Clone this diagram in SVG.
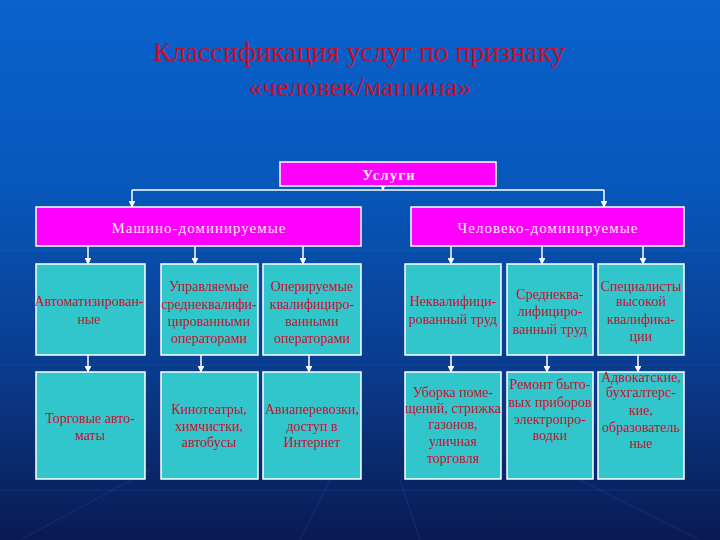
<svg xmlns="http://www.w3.org/2000/svg" width="720" height="540" viewBox="0 0 720 540">
<defs>
<linearGradient id="bg" x1="0" y1="0" x2="0" y2="1">
<stop offset="0" stop-color="#0a62cc"/>
<stop offset="0.35" stop-color="#0757bb"/>
<stop offset="0.7" stop-color="#0a3a8a"/>
<stop offset="1" stop-color="#0a1a52"/>
</linearGradient>
<marker id="ah" viewBox="0 0 10 10" refX="9" refY="5" markerWidth="4.5" markerHeight="4.5" orient="auto" markerUnits="strokeWidth">
<path d="M0,0 L10,5 L0,10 z" fill="#ffffff"/>
</marker>
<style>
.title{font-family:"Liberation Serif","Times New Roman",serif;font-size:28px;fill:#c4102c;text-anchor:middle}
.mag{fill:#ff00ff;stroke:#ffffff;stroke-width:1.5}
.cyan{fill:#30c6cc;stroke:#ffffff;stroke-width:1.5}
.mt{font-family:"Liberation Serif","Times New Roman",serif;font-size:15px;letter-spacing:1px;fill:#ffe8f4;text-anchor:middle}
.ct{font-family:"Liberation Serif","Times New Roman",serif;font-size:14px;fill:#c8102e;text-anchor:middle}
.con{stroke:#ffffff;stroke-width:1.5;fill:none}
.arr{stroke:#ffffff;stroke-width:1.5;fill:none;marker-end:url(#ah)}
.grid{stroke:#3a7ad8;stroke-width:1;opacity:0.18}
</style>
</defs>
<rect x="0" y="0" width="720" height="540" fill="url(#bg)"/>
<g id="background-lines">
<line class="grid" x1="0" y1="150" x2="720" y2="150"/>
<line class="grid" x1="0" y1="250" x2="720" y2="250"/>
<line class="grid" x1="0" y1="365" x2="720" y2="365"/>
<line class="grid" x1="0" y1="490" x2="720" y2="490"/>
<line class="grid" x1="20" y1="540" x2="150" y2="470"/>
<line class="grid" x1="700" y1="540" x2="560" y2="470"/>
<line class="grid" x1="300" y1="540" x2="330" y2="480"/>
<line class="grid" x1="420" y1="540" x2="400" y2="480"/>
</g>
<g id="title">
<text class="title" x="359" y="61">Классификация услуг по признаку</text>
<text class="title" x="360" y="96">«человек/машина»</text>
</g>
<g id="connectors">
<line class="arr" x1="383" y1="186" x2="383" y2="190"/>
<line class="con" x1="132" y1="190" x2="604" y2="190"/>
<line class="arr" x1="132" y1="190" x2="132" y2="207"/>
<line class="arr" x1="604" y1="190" x2="604" y2="207"/>
<line class="arr" x1="88" y1="246" x2="88" y2="264"/>
<line class="arr" x1="195" y1="246" x2="195" y2="264"/>
<line class="arr" x1="303" y1="246" x2="303" y2="264"/>
<line class="arr" x1="451" y1="246" x2="451" y2="264"/>
<line class="arr" x1="542" y1="246" x2="542" y2="264"/>
<line class="arr" x1="643" y1="246" x2="643" y2="264"/>
<line class="arr" x1="88" y1="355" x2="88" y2="372"/>
<line class="arr" x1="201" y1="355" x2="201" y2="372"/>
<line class="arr" x1="309" y1="355" x2="309" y2="372"/>
<line class="arr" x1="451" y1="355" x2="451" y2="372"/>
<line class="arr" x1="547" y1="355" x2="547" y2="372"/>
<line class="arr" x1="638" y1="355" x2="638" y2="372"/>
</g>
<g id="uslugi">
<rect class="mag" x="280" y="162" width="216" height="24"/>
<text class="mt" x="389" y="180" font-weight="bold" letter-spacing="1.3">Услуги</text>
</g>
<g id="machine">
<rect class="mag" x="36" y="207" width="325" height="39"/>
<text class="mt" x="199" y="233">Машино-доминируемые</text>
</g>
<g id="human">
<rect class="mag" x="411" y="207" width="273" height="39"/>
<text class="mt" x="548" y="233">Человеко-доминируемые</text>
</g>
<g id="m1">
<rect class="cyan" x="36" y="264" width="109" height="91"/>
<text class="ct" x="89" y="306">Автоматизирован-</text>
<text class="ct" x="89" y="324">ные</text>
</g>
<g id="m2">
<rect class="cyan" x="161" y="264" width="97" height="91"/>
<text class="ct" x="209" y="291">Управляемые</text>
<text class="ct" x="209" y="309">среднеквалифи-</text>
<text class="ct" x="209" y="326">цированными</text>
<text class="ct" x="209" y="343">операторами</text>
</g>
<g id="m3">
<rect class="cyan" x="263" y="264" width="98" height="91"/>
<text class="ct" x="312" y="291">Оперируемые</text>
<text class="ct" x="312" y="309">квалифициро-</text>
<text class="ct" x="312" y="326">ванными</text>
<text class="ct" x="312" y="343">операторами</text>
</g>
<g id="h1">
<rect class="cyan" x="405" y="264" width="96" height="91"/>
<text class="ct" x="453" y="306">Неквалифици-</text>
<text class="ct" x="453" y="324">рованный труд</text>
</g>
<g id="h2">
<rect class="cyan" x="507" y="264" width="86" height="91"/>
<text class="ct" x="550" y="299">Среднеква-</text>
<text class="ct" x="550" y="316">лифициро-</text>
<text class="ct" x="550" y="334">ванный труд</text>
</g>
<g id="h3">
<rect class="cyan" x="598" y="264" width="86" height="91"/>
<text class="ct" x="641" y="291">Специалисты</text>
<text class="ct" x="641" y="306">высокой</text>
<text class="ct" x="641" y="324">квалифика-</text>
<text class="ct" x="641" y="341">ции</text>
</g>
<g id="m4">
<rect class="cyan" x="36" y="372" width="109" height="107"/>
<text class="ct" x="90" y="423">Торговые авто-</text>
<text class="ct" x="90" y="440">маты</text>
</g>
<g id="m5">
<rect class="cyan" x="161" y="372" width="97" height="107"/>
<text class="ct" x="209" y="414">Кинотеатры,</text>
<text class="ct" x="209" y="431">химчистки,</text>
<text class="ct" x="209" y="447">автобусы</text>
</g>
<g id="m6">
<rect class="cyan" x="263" y="372" width="98" height="107"/>
<text class="ct" x="312" y="414">Авиаперевозки,</text>
<text class="ct" x="312" y="431">доступ в</text>
<text class="ct" x="312" y="447">Интернет</text>
</g>
<g id="h4">
<rect class="cyan" x="405" y="372" width="96" height="107"/>
<text class="ct" x="453" y="397">Уборка поме-</text>
<text class="ct" x="453" y="413">щений, стрижка</text>
<text class="ct" x="453" y="429">газонов,</text>
<text class="ct" x="453" y="446">уличная</text>
<text class="ct" x="453" y="463">торговля</text>
</g>
<g id="h5">
<rect class="cyan" x="507" y="372" width="86" height="107"/>
<text class="ct" x="550" y="389">Ремонт быто-</text>
<text class="ct" x="550" y="407">вых приборов</text>
<text class="ct" x="550" y="424">электропро-</text>
<text class="ct" x="550" y="440">водки</text>
</g>
<g id="h6">
<rect class="cyan" x="598" y="372" width="86" height="107"/>
<text class="ct" x="641" y="382">Адвокатские,</text>
<text class="ct" x="641" y="397">бухгалтерс-</text>
<text class="ct" x="641" y="415">кие,</text>
<text class="ct" x="641" y="432">образователь</text>
<text class="ct" x="641" y="448">ные</text>
</g>
</svg>
